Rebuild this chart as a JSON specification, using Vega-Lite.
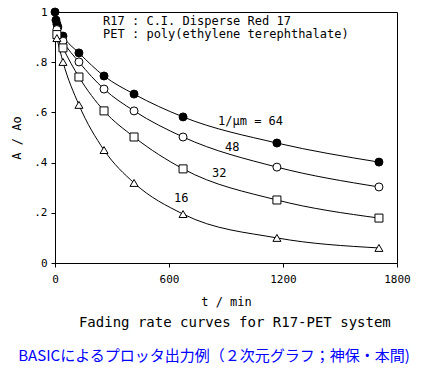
{
  "$schema": "https://vega.github.io/schema/vega-lite/v6.json",
  "width": 342,
  "height": 251,
  "autosize": {"type": "none"},
  "padding": {"left": 55, "top": 12, "right": 33, "bottom": 107},
  "background": "white",
  "config": {
    "view": {"stroke": "black", "strokeWidth": 1},
    "axis": {"grid": false, "domainColor": "black", "tickColor": "black", "labelColor": "black", "titleColor": "black", "labelFont": "DejaVu Sans Mono", "titleFont": "DejaVu Sans Mono", "labelFontSize": 11, "titleFontSize": 12, "titleFontWeight": "normal", "tickSize": 4}
  },
  "title": {
    "text": "BASICによるプロッタ出力例（２次元グラフ；神保・本間)",
    "orient": "bottom",
    "font": "Noto Sans CJK JP",
    "fontSize": 15,
    "fontWeight": "normal",
    "color": "#0000ff",
    "anchor": "middle",
    "dx": -12,
    "offset": 19
  },
  "datasets": {
    "pts": [
      {"t": 0, "a": 1.0, "s": "64"},
      {"t": 5, "a": 0.968, "s": "64"},
      {"t": 10, "a": 0.952, "s": "64"},
      {"t": 15, "a": 0.94, "s": "64"},
      {"t": 42, "a": 0.904, "s": "64"},
      {"t": 126, "a": 0.837, "s": "64"},
      {"t": 258, "a": 0.745, "s": "64"},
      {"t": 416, "a": 0.673, "s": "64"},
      {"t": 674, "a": 0.582, "s": "64"},
      {"t": 1168, "a": 0.478, "s": "64"},
      {"t": 1705, "a": 0.402, "s": "64"},
      {"t": 10, "a": 0.93, "s": "48"},
      {"t": 42, "a": 0.884, "s": "48"},
      {"t": 126, "a": 0.801, "s": "48"},
      {"t": 258, "a": 0.693, "s": "48"},
      {"t": 416, "a": 0.606, "s": "48"},
      {"t": 674, "a": 0.502, "s": "48"},
      {"t": 1168, "a": 0.382, "s": "48"},
      {"t": 1705, "a": 0.303, "s": "48"},
      {"t": 10, "a": 0.91, "s": "32"},
      {"t": 42, "a": 0.857, "s": "32"},
      {"t": 126, "a": 0.741, "s": "32"},
      {"t": 258, "a": 0.606, "s": "32"},
      {"t": 416, "a": 0.502, "s": "32"},
      {"t": 674, "a": 0.375, "s": "32"},
      {"t": 1168, "a": 0.251, "s": "32"},
      {"t": 1705, "a": 0.179, "s": "32"},
      {"t": 10, "a": 0.896, "s": "16"},
      {"t": 42, "a": 0.801, "s": "16"},
      {"t": 126, "a": 0.63, "s": "16"},
      {"t": 258, "a": 0.45, "s": "16"},
      {"t": 416, "a": 0.319, "s": "16"},
      {"t": 674, "a": 0.195, "s": "16"},
      {"t": 1168, "a": 0.1, "s": "16"},
      {"t": 1705, "a": 0.06, "s": "16"}
    ],
    "notes": [
      {"t": 253, "a": 0.965, "label": "R17 : C.I. Disperse Red 17"},
      {"t": 253, "a": 0.913, "label": "PET : poly(ethylene terephthalate)"},
      {"t": 858, "a": 0.564, "label": "1/μm = 64"},
      {"t": 895, "a": 0.464, "label": "48"},
      {"t": 826, "a": 0.36, "label": "32"},
      {"t": 626, "a": 0.26, "label": "16"}
    ],
    "caption": [
      {"t": 126, "a": -0.24, "label": "Fading rate curves for R17-PET system"}
    ]
  },
  "layer": [
    {
      "data": {"name": "pts"},
      "mark": {"type": "line", "interpolate": "monotone", "color": "black", "strokeWidth": 1},
      "encoding": {
        "x": {"field": "t", "type": "quantitative", "scale": {"domain": [0, 1800], "nice": false}, "axis": {"values": [0, 600, 1200, 1800], "format": "d", "title": "t / min", "labelFlush": false, "labelPadding": 6, "titlePadding": 12}},
        "y": {"field": "a", "type": "quantitative", "scale": {"domain": [0, 1], "nice": false}, "axis": {"values": [0, 0.2, 0.4, 0.6, 0.8, 1], "title": "A / Ao", "labelExpr": "datum.value == 0 ? '0' : datum.value == 1 ? '1' : replace(format(datum.value, '.1f'), '0.', '.')", "labelPadding": 4, "titlePadding": 10}},
        "detail": {"field": "s"}
      }
    },
    {
      "data": {"name": "pts"},
      "mark": {"type": "point", "opacity": 1, "strokeWidth": 1, "stroke": "black"},
      "encoding": {
        "x": {"field": "t", "type": "quantitative"},
        "y": {"field": "a", "type": "quantitative"},
        "shape": {"field": "s", "type": "nominal", "scale": {"domain": ["64", "48", "32", "16"], "range": ["circle", "circle", "square", "triangle-up"]}, "legend": null},
        "fill": {"field": "s", "type": "nominal", "scale": {"domain": ["64", "48", "32", "16"], "range": ["black", "white", "white", "white"]}, "legend": null},
        "size": {"field": "s", "type": "nominal", "scale": {"domain": ["64", "48", "32", "16"], "range": [64, 64, 42, 50]}, "legend": null}
      }
    },
    {
      "data": {"name": "notes"},
      "mark": {"type": "text", "align": "left", "baseline": "middle", "font": "DejaVu Sans Mono", "fontSize": 12, "color": "black"},
      "encoding": {
        "x": {"field": "t", "type": "quantitative"},
        "y": {"field": "a", "type": "quantitative"},
        "text": {"field": "label"}
      }
    },
    {
      "data": {"name": "caption"},
      "mark": {"type": "text", "align": "left", "baseline": "middle", "font": "DejaVu Sans Mono", "fontSize": 14, "color": "black"},
      "encoding": {
        "x": {"field": "t", "type": "quantitative"},
        "y": {"field": "a", "type": "quantitative"},
        "text": {"field": "label"}
      }
    }
  ]
}
